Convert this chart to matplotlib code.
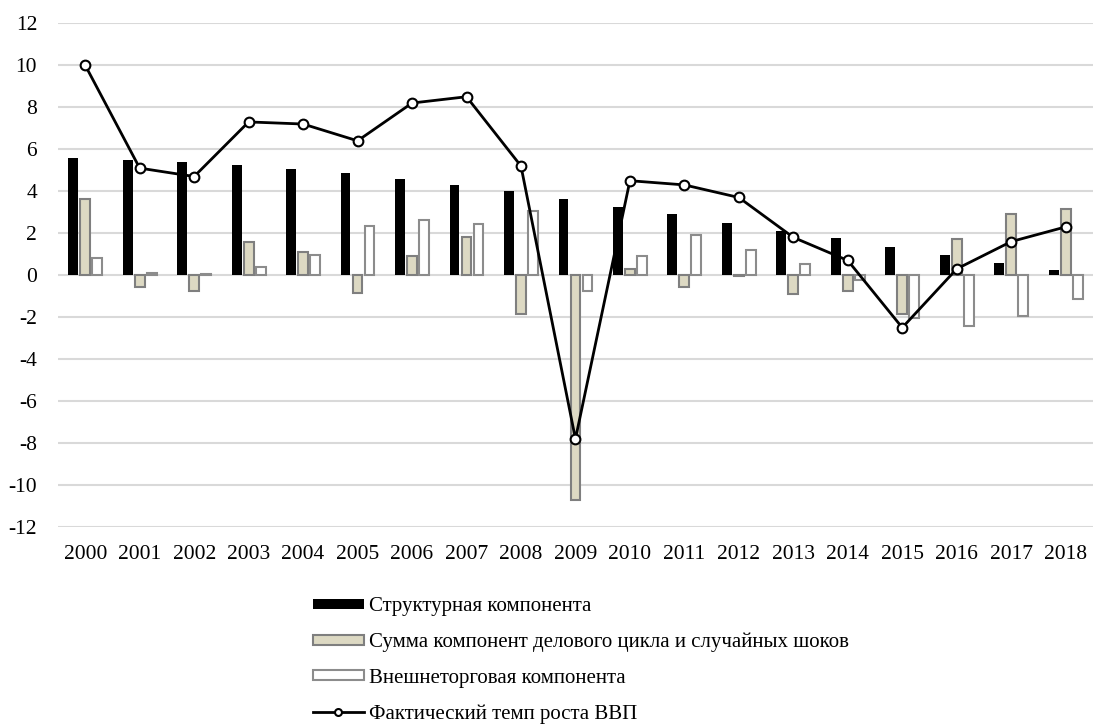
import matplotlib.pyplot as plt
from matplotlib.lines import Line2D
import numpy as np

years = ['2000', '2001', '2002', '2003', '2004', '2005', '2006', '2007', '2008', '2009',
         '2010', '2011', '2012', '2013', '2014', '2015', '2016', '2017', '2018']
structural = [5.57, 5.5, 5.4, 5.27, 5.07, 4.85, 4.6, 4.3, 4.0, 3.65,
              3.27, 2.9, 2.5, 2.1, 1.75, 1.35, 0.97, 0.6, 0.25]
cycle = [3.63, -0.55, -0.75, 1.6, 1.1, -0.85, 0.9, 1.8, -1.85, -10.7,
         0.3, -0.55, -0.05, -0.9, -0.75, -1.85, 1.7, 2.93, 3.15]
foreign = [0.8, 0.1, 0.05, 0.4, 0.97, 2.33, 2.63, 2.42, 3.08, -0.75,
           0.92, 1.9, 1.2, 0.55, -0.25, -2.05, -2.4, -1.95, -1.15]
gdp = [10.0, 5.1, 4.7, 7.3, 7.2, 6.4, 8.2, 8.5, 5.2, -7.8,
       4.5, 4.3, 3.7, 1.8, 0.7, -2.5, 0.3, 1.6, 2.3]

labels = ['Структурная компонента',
          'Сумма компонент делового цикла и случайных шоков',
          'Внешнеторговая компонента',
          'Фактический темп роста ВВП']

plt.rcParams['font.family'] = ['Liberation Serif', 'DejaVu Serif']
plt.rcParams['axes.unicode_minus'] = False

fig = plt.figure(figsize=(10.94, 7.27), dpi=100)
ax = fig.add_axes([0.053, 0.275, 0.946, 0.693])

x = np.arange(len(years))
w = 0.18
off = 0.22
b1 = ax.bar(x - off, structural, w, color='black', zorder=3)
b2 = ax.bar(x, cycle, w, color='#ddd9c3', edgecolor='#7f7f7f', linewidth=1.5, zorder=3)
b3 = ax.bar(x + off, foreign, w, color='white', edgecolor='#8c8c8c', linewidth=1.5, zorder=3)
ax.plot(x, gdp, color='black', lw=2, marker='o', markersize=7,
        markerfacecolor='white', markeredgecolor='black', markeredgewidth=1.5, zorder=4)

ax.set_xlim(-0.5, len(years) - 0.5)
ax.set_ylim(-12, 12)
ax.set_yticks(range(-12, 13, 2))
ax.set_xticks(x)
ax.set_xticklabels(years)
ax.tick_params(length=0, labelsize=15.5, pad=13)
ax.tick_params(axis='y', pad=15)
ax.grid(axis='y', color='#d9d9d9', lw=1.5, zorder=0)
for s in ax.spines.values():
    s.set_visible(False)

# маленький маркер для легенды
ln_leg = Line2D([], [], color='black', lw=2, marker='o', markersize=5,
                markerfacecolor='white', markeredgecolor='black', markeredgewidth=1.5)

fig.legend([b1, b2, b3, ln_leg], labels, loc='upper left', bbox_to_anchor=(0.2724, 0.1985),
           frameon=False, fontsize=15, handlelength=2.45, handleheight=0.34,
           handletextpad=0.25, labelspacing=0.79, borderpad=0.2)

fig.savefig('out.png', dpi=100)
